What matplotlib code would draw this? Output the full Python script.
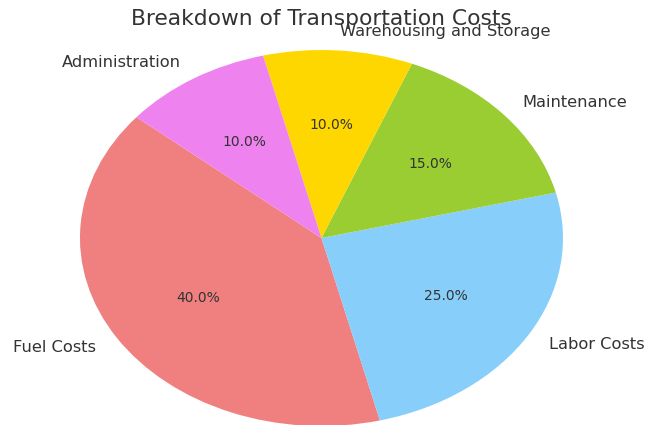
import matplotlib
matplotlib.use("Agg")
import matplotlib.pyplot as plt

# data
categories = ["Fuel Costs", "Labor Costs", "Maintenance",
              "Warehousing and Storage", "Administration"]
shares = [40, 25, 15, 10, 10]
colors = ["lightcoral", "lightskyblue", "yellowgreen", "gold", "violet"]

plt.rcParams["font.family"] = "DejaVu Sans"
text_col = "#333333"

fig = plt.figure(figsize=(6.46, 4.25), dpi=100)
# pie is drawn stretched (non-equal aspect), slightly cut at the bottom
ax = fig.add_axes([0.1238, -0.0024, 0.7477, 0.8847])

wedges, texts, autotexts = ax.pie(
    shares, labels=categories, colors=colors,
    autopct="%1.1f%%", startangle=140,
    textprops=dict(color=text_col, fontsize=11.7),
)
for t in autotexts:
    t.set_fontsize(10)

ax.set_aspect("auto")
ax.set_xlim(-1, 1)
ax.set_ylim(-1, 1)
ax.axis("off")

fig.text(0.497, 0.955, "Breakdown of Transportation Costs",
         ha="center", va="center", fontsize=15.7, color=text_col)

fig.savefig("out.png", dpi=100, facecolor="white")
